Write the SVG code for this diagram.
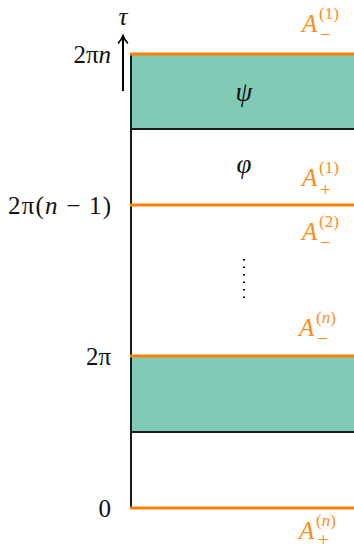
<svg xmlns="http://www.w3.org/2000/svg" width="354" height="549" viewBox="0 0 354 549">
<style>
.band{fill:#80CBB5;stroke:none}
.blk{stroke:#1a1a1a;stroke-width:2;fill:none}
.org{stroke:#FF8000;stroke-width:3;fill:none}
.m{font-family:"Liberation Serif","DejaVu Serif",serif;font-size:25px;fill:#111}
.i{font-style:italic}
.big{font-size:27px}
.lab{font-family:"Liberation Serif","DejaVu Serif",serif;font-style:italic;font-size:25px;fill:#FF8C1A}
.sup{font-family:"Liberation Serif","DejaVu Serif",serif;font-size:17px;fill:#FF8C1A}
.sub{font-family:"Liberation Serif","DejaVu Serif",serif;font-size:19px;fill:#FF8C1A}
</style>
<g id="bands">
<rect class="band" x="131" y="54" width="223" height="75"/>
<rect class="band" x="131" y="356" width="223" height="76"/>
</g>
<g id="lines">
<line class="blk" x1="131" y1="54" x2="131" y2="508"/>
<line class="blk" x1="131" y1="129" x2="354" y2="129"/>
<line class="blk" x1="131" y1="432" x2="354" y2="432"/>
<line class="org" x1="130" y1="54" x2="354" y2="54"/>
<line class="org" x1="130" y1="205" x2="354" y2="205"/>
<line class="org" x1="130" y1="356" x2="354" y2="356"/>
<line class="org" x1="130" y1="508" x2="354" y2="508"/>
</g>
<g id="axis">
<line x1="123" y1="91" x2="123" y2="37" stroke="#000" stroke-width="2"/>
<path d="M118.5,43 Q121.5,39.5 123,35.5 Q124.5,39.5 127.5,43" fill="none" stroke="#000" stroke-width="1.6" stroke-linecap="round"/>
<text class="m i" x="123" y="25" text-anchor="middle">τ</text>
</g>
<g id="ticks">
<text class="m" x="111" y="63" text-anchor="end">2π<tspan class="i">n</tspan></text>
<text class="m" x="111" y="214" text-anchor="end" textLength="103">2π(<tspan class="i">n</tspan> − 1)</text>
<text class="m" x="111" y="365" text-anchor="end">2π</text>
<text class="m" x="111" y="517" text-anchor="end">0</text>
</g>
<g id="fields">
<text class="m i big" x="244" y="101" text-anchor="middle">ψ</text>
<text class="m i big" x="244" y="173" text-anchor="middle">φ</text>
<line x1="244" y1="259" x2="244" y2="304" stroke="#000" stroke-width="2" stroke-dasharray="1.5,6"/>
</g>
<g id="labels">
<g id="a1m"><text class="lab" x="302" y="32">A</text><text class="sup" x="319" y="19">(1)</text><text class="sub" x="320" y="41">−</text></g>
<g id="a1p"><text class="lab" x="302" y="186">A</text><text class="sup" x="319" y="173">(1)</text><text class="sub" x="320" y="196">+</text></g>
<g id="a2m"><text class="lab" x="302" y="240">A</text><text class="sup" x="319" y="227">(2)</text><text class="sub" x="320" y="249">−</text></g>
<g id="anm"><text class="lab" x="299" y="336">A</text><text class="sup" x="316" y="323">(<tspan font-style="italic">n</tspan>)</text><text class="sub" x="317" y="345">−</text></g>
<g id="anp"><text class="lab" x="299" y="539">A</text><text class="sup" x="316" y="526">(<tspan font-style="italic">n</tspan>)</text><text class="sub" x="318" y="546" font-size="15">+</text></g>
</g>
</svg>
